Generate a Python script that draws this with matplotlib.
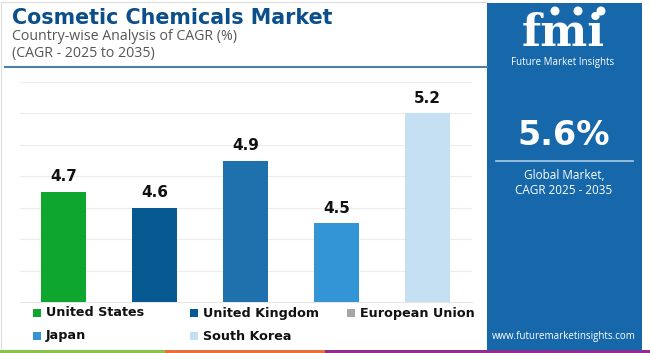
import matplotlib.pyplot as plt
from matplotlib.patches import Rectangle, Ellipse
import numpy as np

# Chart data
countries = ['United States', 'United Kingdom', 'European Union', 'Japan', 'South Korea']
cagr = [4.7, 4.6, 4.9, 4.5, 5.2]
bar_colors = ['#0fa62f', '#075a91', '#1f71ad', '#3395d6', '#c4e0f2']
legend_colors = ['#0fa62f', '#075a91', '#a6a6a6', '#3395d6', '#c4e0f2']
global_cagr = '5.6%'

W, H = 650, 353
fig = plt.figure(figsize=(W / 100, H / 100), dpi=100)
fig.patch.set_facecolor('white')


def px(x, y):
    # pixel coords (top-left origin) -> figure fraction
    return x / W, 1 - y / H


# light border of the left panel
fig.add_artist(Rectangle(px(1, 350), 486 / W, 348 / H, transform=fig.transFigure,
                         facecolor='none', edgecolor='#dcdcdc', lw=0.8))

# titles
fig.text(*px(12, 18), 'Cosmetic Chemicals Market', fontsize=14.9, fontweight='bold',
         color='#0b4f8a', va='center', family='DejaVu Sans')
fig.text(*px(12, 36), 'Country-wise Analysis of CAGR (%)', fontsize=10.2,
         color='#555555', va='center', family='Open Sans')
fig.text(*px(12, 53), '(CAGR - 2025 to 2035)', fontsize=10.2,
         color='#555555', va='center', family='Open Sans')
fig.add_artist(plt.Line2D([5 / W, 487 / W], [1 - 67 / H] * 2, transform=fig.transFigure,
                          color='#4a80aa', lw=1.5))

# bar chart
ax = fig.add_axes([20 / W, (H - 302) / H, 452 / W, 220 / H])
x = np.arange(len(countries))
ax.bar(x, cagr, width=0.5, color=bar_colors, zorder=3)
for xi, v in zip(x, cagr):
    ax.text(xi, v + 0.05, f'{v}', ha='center', va='bottom', fontsize=11,
            fontweight='bold', color='#111111', family='DejaVu Sans')
ax.set_xlim(-0.48, 4.49)
ax.set_ylim(4.0, 5.4)
ax.set_yticks(np.arange(4.2, 5.41, 0.2))
ax.yaxis.grid(True, color='#ececec', lw=0.8, zorder=0)
ax.tick_params(left=False, bottom=False, labelleft=False, labelbottom=False)
for s in ['top', 'right', 'left']:
    ax.spines[s].set_visible(False)
ax.spines['bottom'].set_color('#e6e6e6')
ax.set_facecolor('none')

# legend
legend_pos = [(33, 313), (190, 313), (347, 313), (33, 336), (190, 336)]
for (lx, ly), name, col in zip(legend_pos, countries, legend_colors):
    fig.add_artist(Rectangle(px(lx, ly + 4), 8 / W, 8 / H, transform=fig.transFigure,
                             facecolor=col, edgecolor='none'))
    fig.text(*px(lx + 13, ly), name, fontsize=9.2, fontweight='bold', color='#111111',
             va='center', family='DejaVu Sans')

# bottom coloured stripes
for x0, x1, col in [(0, 165, '#8bc34a'), (165, 325, '#e8703a'), (325, 650, '#8e2f8f')]:
    fig.add_artist(Rectangle(px(x0, 353), (x1 - x0) / W, 3 / H, transform=fig.transFigure,
                             facecolor=col, edgecolor='none'))

# right panel
fig.add_artist(Rectangle(px(487, 350), 155 / W, 347 / H, transform=fig.transFigure,
                         facecolor='#1668aa', edgecolor='none'))
fig.text(*px(563, 46), 'fmi', fontsize=32, fontweight='bold', color='white',
         ha='center', va='baseline', family='DejaVu Serif')
for cx in [555, 578, 601]:
    fig.add_artist(Ellipse(px(cx, 11), 9 / W, 9 / H, transform=fig.transFigure,
                           facecolor='white', edgecolor='none'))
fig.text(*px(563, 62), 'Future Market Insights', fontsize=7, color='white',
         ha='center', va='center', family='Open Sans')
fig.text(*px(564, 136), global_cagr, fontsize=24, fontweight='bold', color='white',
         ha='center', va='center', family='DejaVu Sans')
fig.add_artist(plt.Line2D([496 / W, 633 / W], [1 - 161 / H] * 2, transform=fig.transFigure,
                          color='#a9cbe6', lw=1.2))
fig.text(*px(564, 176), 'Global Market,', fontsize=8.5, color='white',
         ha='center', va='center', family='Open Sans')
fig.text(*px(564, 191), 'CAGR 2025 - 2035', fontsize=8.5, color='white',
         ha='center', va='center', family='Open Sans')
fig.text(*px(564, 337), 'www.futuremarketinsights.com', fontsize=7, color='white',
         ha='center', va='center', family='Open Sans')

fig.savefig('out.png', dpi=100)
